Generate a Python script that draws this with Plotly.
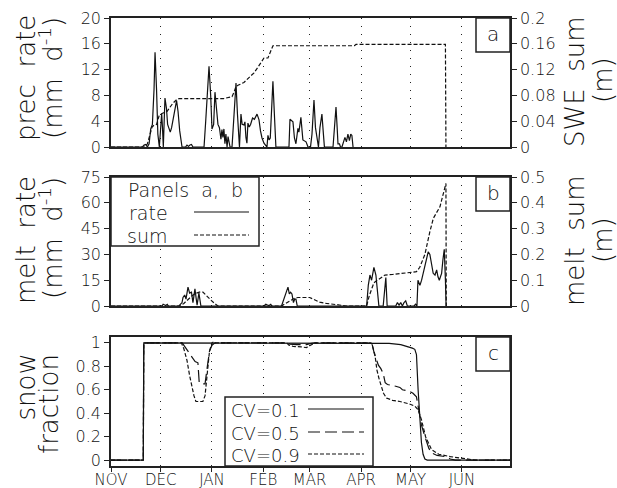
import plotly.graph_objects as go

# ---------------- data (day index counted from 1 Nov) ----------------
month_days = [0, 30, 61, 92, 120, 151, 181, 212]
month_labels = ["NOV", "DEC", "JAN", "FEB", "MAR", "APR", "MAY", "JUN"]

prec_day = [0, 19, 20, 21, 22, 23, 24, 25, 26, 26.6, 27.5, 28.3, 29.2, 30.6, 31.1, 31.6, 32.6, 33.5, 34.2, 35,
            35.8, 36.6, 37.4, 38.5, 39.6, 40.5, 41.5, 42.9, 45, 45.9, 46.8, 47.7, 48.6, 49.5, 56.2, 57.2, 58.2,
            59.2, 60.2, 61, 62, 62.8, 63.7, 64.6, 65.5, 66.4, 67, 67.6, 68.2, 68.8, 69.4, 70.1, 70.7, 71.9,
            73.1, 74.3, 75.5, 76.4, 77, 77.6, 78.5, 79.2, 80.3, 80.9, 81.5, 82.1, 82.7, 83.5, 84.3, 85.5, 86.6,
            88.2, 88.9, 89.4, 90.3, 91.2, 92.4, 94.2, 94.8, 95.5, 96.2, 97.8, 98.7, 99.6, 107.5, 108.1, 109.9,
            110.8, 111.7, 112.9, 113.5, 114.7, 115.9, 116.8, 117.8, 119, 120.5, 121.4, 122.6, 123.5, 124.4,
            125.3, 126.2, 127.4, 128.3, 128.9, 134.1, 135.3, 135.9, 136.6, 137.1, 138, 138.6, 139.5, 141.3,
            142.2, 143.1, 144, 144.8, 145.5, 146.2]
prec_rate = [0, 0, 0.3, 0.4, 0, 0.5, 2.8, 3.5, 9, 14.7, 9, 2, 0, 5.2, 3, 0, 7.6, 6, 3.5, 2.8,
             2.3, 3.0, 4.2, 6, 7.2, 5.5, 2.5, 0, 0, 0.3, 0.1, 0.3, 0.4, 0, 0, 4, 9.5,
             12.5, 8, 2.8, 3.5, 8.5, 6, 3.5, 3, 1.2, 2.7, 1.5, 2.8, 0.5, 2, 0, 1.6, 0,
             0, 5, 9.9, 5, 2, 0, 5.1, 3.5, 3.4, 3.9, 1.5, 0.6, 3.7, 3.1, 3.5, 4.5, 4.3,
             5.1, 4.6, 4.2, 2.5, 1.4, 0.6, 0, 1.8, 1.1, 1.4, 10.2, 5, 0, 0, 4.3, 3.9,
             1.4, 0.5, 2.9, 2.3, 4.6, 1.1, 0.9, 0.8, 0, 0, 2, 7.3, 3, 1,
             0, 3, 5.1, 2, 0, 0, 4, 6.2, 3, 0.5, 0.5, 0, 0, 1.5,
             0.8, 2, 1, 2, 1.8, 0]

swe_day = [0, 20.5, 22, 24.8, 26, 27.5, 29, 30.8, 33.8, 35.6, 37.4, 39.9, 41.1, 68, 70, 73.1, 74.3, 75.5,
           77, 80.3, 83.9, 86.4, 88.8, 91.2, 92.4, 94.8, 96, 97.8, 147, 148, 202, 202.3]
swe_sum = [0, 0, 0.005, 0.031, 0.034, 0.035, 0.048, 0.052, 0.055, 0.062, 0.068, 0.074, 0.075, 0.075, 0.076,
           0.078, 0.085, 0.094, 0.096, 0.1, 0.109, 0.115, 0.124, 0.133, 0.138, 0.138, 0.145, 0.157, 0.157,
           0.159, 0.159, 0]

melt_day = [0, 30.8, 31.5, 32.5, 33, 34, 34.6, 41, 42.9, 43.5, 44.5, 45.3, 46.5, 47.5, 48.6, 49.5, 50.7,
            51.5, 52, 53.1, 54.3, 92.4, 93.5, 94.5, 95.5, 96.5, 97.2, 103, 104, 105, 105.7, 106.9, 107.7,
            108.5, 109.3, 110.2, 111, 111.7, 112.5, 154.4, 155.4, 156.4, 157.4, 158.8, 160, 161, 161.8,
            164.4, 165.5, 166, 166.8, 172, 173, 174, 175, 176, 177, 178, 179, 183, 184, 184.8, 185.4, 186.6,
            187.6, 188.6, 189.6, 190.6, 191.6, 192.6, 193.6, 194.6, 195.7, 196.7, 197.5, 198.3, 199, 199.7,
            200.5, 201.3, 202, 202.4]
melt_rate = [0, 0, 1, 0.5, 0.3, 1, 0, 0, 2, 5, 6.4, 4, 11, 7.5, 8, 2, 10,
             4, 0.5, 7.5, 0, 0, 1, 0.5, 0.3, 1, 0, 0, 3, 6, 8, 11, 7,
             8, 7, 2, 4, 4, 0, 0, 12, 18, 15, 22.5, 18, 7.5, 0,
             0, 10, 16.5, 0, 0, 2, 0.5, 2, 0, 2, 3, 0, 0, 1, 0, 15, 12,
             15, 19, 22.5, 28, 31.5, 30, 25, 19, 18, 21, 17, 15, 17, 19,
             27, 33, 15, 0]

msum_day = [0, 41.7, 44, 46.5, 49, 51.5, 54, 55.5, 57.5, 60, 62.5, 64.6, 103, 105, 107, 109, 111, 113, 120,
            122, 124, 126, 130, 134, 138, 142, 154.4, 156, 157.4, 158.8, 160.4, 163, 165.5, 170, 175, 180,
            184.5, 186.5, 189.6, 192.6, 194.7, 198.7, 200.5, 202.3, 202.5]
melt_sum = [0, 0, 0.01, 0.025, 0.04, 0.05, 0.055, 0.054, 0.04, 0.025, 0.01, 0, 0, 0.008, 0.018, 0.026, 0.031,
            0.033, 0.033, 0.027, 0.02, 0.015, 0.01, 0.008, 0.004, 0, 0, 0.04, 0.07, 0.09, 0.098, 0.11, 0.12,
            0.122, 0.125, 0.128, 0.133, 0.15, 0.2, 0.288, 0.34, 0.385, 0.43, 0.475, 0]

cv1_day = [0, 19.5, 19.8, 162, 168, 175, 179, 182, 183.5, 184.5, 185.5, 186.5, 187.5, 188.5, 189.6, 191, 241]
cv1_frac = [0, 0, 1, 1, 0.995, 0.985, 0.97, 0.955, 0.945, 0.9, 0.6, 0.35, 0.15, 0.05, 0.01, 0, 0]

cv5_day = [0, 19.5, 19.8, 43, 45, 46.8, 49, 50.8, 52.5, 53.3, 55, 56.8, 58.2, 59.5, 61, 62.8, 106, 108, 112,
           118, 121, 123, 157.5, 158, 159, 161.5, 163, 164.4, 165.6, 167, 169.2, 172, 174.5, 176, 180, 182.4,
           184.5, 185.5, 187.5, 189.6, 192, 193.8, 197, 202, 205, 208, 241]
cv5_frac = [0, 0, 1, 1, 0.96, 0.92, 0.87, 0.84, 0.83, 0.66, 0.65, 0.65, 0.8, 0.93, 0.98, 1, 1, 0.99, 0.985,
            0.985, 0.995, 1, 1, 0.97, 0.91, 0.81, 0.78, 0.74, 0.66, 0.645, 0.64, 0.63, 0.62, 0.6, 0.59, 0.57,
            0.54, 0.45, 0.3, 0.2, 0.1, 0.06, 0.04, 0.03, 0.01, 0, 0]

cv9_day = [0, 19.5, 19.8, 42.5, 44, 45.9, 47.5, 48.8, 50.1, 51.3, 55.5, 56.8, 57.5, 58.3, 59.5, 61, 62, 63,
           106, 107.5, 110, 115, 118, 120, 122, 123, 157, 158, 159.4, 160.6, 161.8, 162.5, 163.5, 164.6,
           166.4, 170, 174.5, 180, 183.6, 185.5, 187.6, 190, 193.6, 198, 205, 215, 220, 241]
cv9_frac = [0, 0, 1, 1, 0.95, 0.85, 0.72, 0.62, 0.55, 0.5, 0.5, 0.55, 0.65, 0.8, 0.93, 1, 1.01, 1,
            1, 0.98, 0.97, 0.965, 0.96, 0.975, 0.995, 1, 1, 0.97, 0.9, 0.77, 0.7, 0.66, 0.62, 0.57,
            0.53, 0.51, 0.5, 0.48, 0.46, 0.43, 0.34, 0.2, 0.09, 0.05, 0.03, 0.01, 0, 0]

# ---------------- layout helpers ----------------
W, H = 617, 488
L, R, T, B = 111, 107, 18, 22
PW, PH = W - L - R, H - T - B


def fx(px):
    return (px - L) / PW


def fy(py):
    return (H - B - py) / PH


FONT = "DejaVu Sans"
INK = "#111"
LW = 1.2

fig = go.Figure()

# panel a
fig.add_trace(go.Scatter(x=prec_day, y=prec_rate, xaxis="x", yaxis="y", mode="lines",
                         line=dict(color=INK, width=LW), name="rate"))
fig.add_trace(go.Scatter(x=swe_day, y=swe_sum, xaxis="x", yaxis="y2", mode="lines",
                         line=dict(color=INK, width=LW, dash="4px,2px"), name="sum"))
# panel b
fig.add_trace(go.Scatter(x=melt_day, y=melt_rate, xaxis="x2", yaxis="y3", mode="lines",
                         line=dict(color=INK, width=LW), name="melt rate"))
fig.add_trace(go.Scatter(x=msum_day, y=melt_sum, xaxis="x2", yaxis="y4", mode="lines",
                         line=dict(color=INK, width=LW, dash="4px,2px"), name="melt sum"))
# panel c
fig.add_trace(go.Scatter(x=cv1_day, y=cv1_frac, xaxis="x3", yaxis="y5", mode="lines",
                         line=dict(color=INK, width=LW), name="CV=0.1"))
fig.add_trace(go.Scatter(x=cv5_day, y=cv5_frac, xaxis="x3", yaxis="y5", mode="lines",
                         line=dict(color=INK, width=LW, dash="12px,5px"), name="CV=0.5"))
fig.add_trace(go.Scatter(x=cv9_day, y=cv9_frac, xaxis="x3", yaxis="y5", mode="lines",
                         line=dict(color=INK, width=LW, dash="4px,2px"), name="CV=0.9"))

tickfont = dict(family=FONT, size=16, color=INK, weight=200)
xcommon = dict(range=[0, 241], tickmode="array", tickvals=month_days, showgrid=True, automargin=False,
               gridcolor="#222", griddash="1px,7px", gridwidth=1, showline=True, linecolor="#222",
               linewidth=1.5, mirror=True, zeroline=False,
               tickfont=dict(family=FONT, size=15, color=INK, weight=200))
ycommon = dict(showgrid=False, zeroline=False, showline=True, linecolor="#222", linewidth=1.5,
               automargin=False, ticks="outside", ticklen=5, tickcolor="#222", tickfont=tickfont)

fig.update_layout(
    width=W, height=H, margin=dict(l=L, r=R, t=T, b=B, autoexpand=False),
    paper_bgcolor="white", plot_bgcolor="white", showlegend=False,
    xaxis=dict(xcommon, domain=[0, 1], anchor="y", showticklabels=False, ticks=""),
    yaxis=dict(ycommon, domain=[fy(147), fy(18)], range=[0, 20], tickvals=[0, 4, 8, 12, 16, 20]),
    yaxis2=dict(ycommon, overlaying="y", side="right", anchor="x", range=[0, 0.2],
                tickvals=[0, 0.04, 0.08, 0.12, 0.16, 0.2],
                ticktext=["0", "0.04", "0.08", "0.12", "0.16", "0.2"]),
    xaxis2=dict(xcommon, domain=[0, 1], anchor="y3", showticklabels=False, ticks=""),
    yaxis3=dict(ycommon, domain=[fy(306), fy(177)], range=[0, 75], tickvals=[0, 15, 30, 45, 60, 75]),
    yaxis4=dict(ycommon, overlaying="y3", side="right", anchor="x2", range=[0, 0.5],
                tickvals=[0, 0.1, 0.2, 0.3, 0.4, 0.5], ticktext=["0", "0.1", "0.2", "0.3", "0.4", "0.5"]),
    xaxis3=dict(xcommon, domain=[0, 1], anchor="y5", ticktext=month_labels, ticks="outside",
                ticklen=4, tickcolor="#222", ticklabelstandoff=-5),
    yaxis5=dict(ycommon, domain=[0, fy(337)], range=[-0.05, 1.05], mirror=True,
                tickvals=[0, 0.2, 0.4, 0.6, 0.8, 1], ticktext=["0", "0.2", "0.4", "0.6", "0.8", "1"]),
)

shapes = []
annos = []
TF = dict(family=FONT, size=26, color=INK, weight=200)


def vtext(text, px, py, yanchor="middle"):
    annos.append(dict(text=text, x=fx(px), y=fy(py), xref="paper", yref="paper", showarrow=False,
                      textangle=-90, xanchor="center", yanchor=yanchor, font=TF))


vtext("prec  rate", 26, 78)
vtext("(mm  d<sup>-1</sup>)", 51, 78)
vtext("SWE  sum", 575, 82)
vtext("(m)", 603, 80)
vtext("melt  rate", 26, 240)
vtext("(mm  d<sup>-1</sup>)", 51, 238)
vtext("melt  sum", 575, 241)
vtext("(m)", 603, 240)
vtext("snow", 25, 352, "top")
vtext("fraction", 49, 352, "top")

# panel letter boxes
for letter, top in [("a", 18), ("b", 177), ("c", 337)]:
    shapes.append(dict(type="rect", xref="paper", yref="paper", x0=fx(476), x1=fx(510),
                       y0=fy(top + 34), y1=fy(top), line=dict(color="#222", width=1.5),
                       fillcolor="white", layer="above"))
    annos.append(dict(text=letter, x=fx(493), y=fy(top + 16), xref="paper", yref="paper", showarrow=False,
                      xanchor="center", yanchor="middle", font=dict(family=FONT, size=20, color=INK, weight=200)))

LF = dict(family=FONT, size=19, color=INK, weight=200)
# legend panel b
shapes.append(dict(type="rect", xref="paper", yref="paper", x0=fx(111), x1=fx(259), y0=fy(246), y1=fy(177),
                   line=dict(color="#222", width=1.5), fillcolor="white", layer="above"))
annos.append(dict(text="Panels  a,  b", x=fx(185), y=fy(190), xref="paper", yref="paper", showarrow=False,
                  xanchor="center", yanchor="middle", font=LF))
annos.append(dict(text="rate", x=fx(127), y=fy(213), xref="paper", yref="paper", showarrow=False,
                  xanchor="left", yanchor="middle", font=LF))
annos.append(dict(text="sum", x=fx(125), y=fy(236), xref="paper", yref="paper", showarrow=False,
                  xanchor="left", yanchor="middle", font=LF))
shapes.append(dict(type="line", xref="paper", yref="paper", x0=fx(194), x1=fx(249), y0=fy(212), y1=fy(212),
                   line=dict(color=INK, width=LW), layer="above"))
shapes.append(dict(type="line", xref="paper", yref="paper", x0=fx(194), x1=fx(249), y0=fy(235), y1=fy(235),
                   line=dict(color=INK, width=LW, dash="4px,2px"), layer="above"))

# legend panel c
shapes.append(dict(type="rect", xref="paper", yref="paper", x0=fx(225), x1=fx(373), y0=fy(466), y1=fy(397),
                   line=dict(color="#222", width=1.5), fillcolor="white", layer="above"))
for lab, yy, dash in [("CV=0.1", 409, "solid"), ("CV=0.5", 432, "12px,5px"), ("CV=0.9", 454, "4px,2px")]:
    annos.append(dict(text=lab, x=fx(229), y=fy(yy + 1), xref="paper", yref="paper", showarrow=False,
                      xanchor="left", yanchor="middle", font=dict(family=FONT, size=18, color=INK, weight=200)))
    shapes.append(dict(type="line", xref="paper", yref="paper", x0=fx(308), x1=fx(364), y0=fy(yy), y1=fy(yy),
                       line=dict(color=INK, width=LW, dash=dash), layer="above"))

fig.update_layout(shapes=shapes, annotations=annos)
fig.write_html("out.html", config={"displayModeBar": False},
               post_script="document.body.style.margin='0px';document.body.style.overflow='hidden';")
